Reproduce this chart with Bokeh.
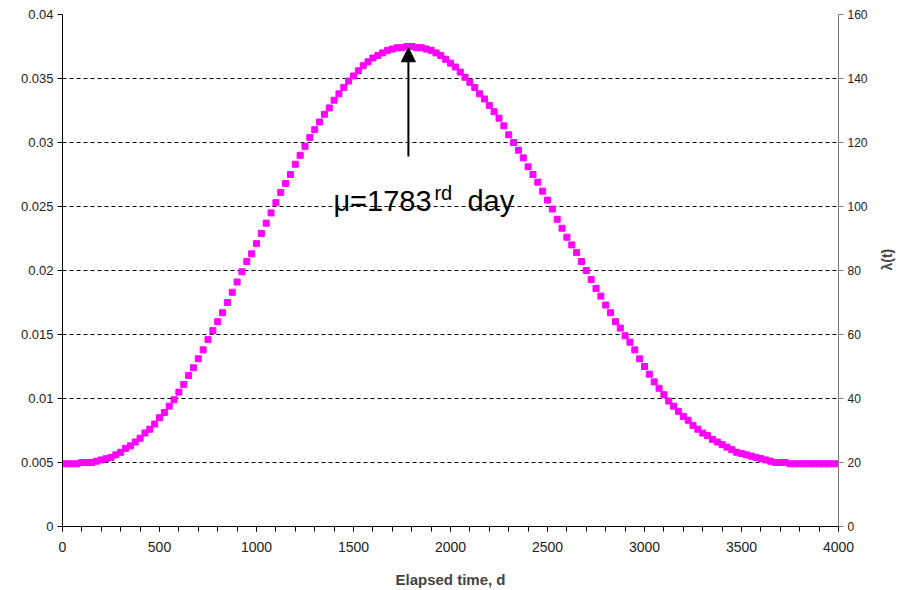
import math
from bokeh.plotting import figure
from bokeh.models import (Range1d, LinearAxis, FixedTicker, CustomJSTickFormatter,
                          Arrow, NormalHead, Label, ColumnDataSource)
from bokeh.embed import file_html
from bokeh.resources import INLINE

# ---- data ----
elapsed_days = [
    0, 25, 50, 75, 100, 125, 150, 175, 200, 225, 250, 275, 300, 325, 350, 375,
    400, 425, 450, 475, 500, 525, 550, 575, 600, 625, 650, 675, 700, 725, 750, 775,
    800, 825, 850, 875, 900, 925, 950, 975, 1000, 1025, 1050, 1075, 1100, 1125, 1150, 1175,
    1200, 1225, 1250, 1275, 1300, 1325, 1350, 1375, 1400, 1425, 1450, 1475, 1500, 1525, 1550, 1575,
    1600, 1625, 1650, 1675, 1700, 1725, 1750, 1775, 1800, 1825, 1850, 1875, 1900, 1925, 1950, 1975,
    2000, 2025, 2050, 2075, 2100, 2125, 2150, 2175, 2200, 2225, 2250, 2275, 2300, 2325, 2350, 2375,
    2400, 2425, 2450, 2475, 2500, 2525, 2550, 2575, 2600, 2625, 2650, 2675, 2700, 2725, 2750, 2775,
    2800, 2825, 2850, 2875, 2900, 2925, 2950, 2975, 3000, 3025, 3050, 3075, 3100, 3125, 3150, 3175,
    3200, 3225, 3250, 3275, 3300, 3325, 3350, 3375, 3400, 3425, 3450, 3475, 3500, 3525, 3550, 3575,
    3600, 3625, 3650, 3675, 3700, 3725, 3750, 3775, 3800, 3825, 3850, 3875, 3900, 3925, 3950, 3975,
    4000,
]
density = [
    0.0049, 0.0049, 0.0049, 0.0049, 0.0050, 0.0050, 0.0050, 0.0051, 0.0052, 0.0053, 0.0054, 0.0056, 0.0058, 0.0061, 0.0063, 0.0066,
    0.0069, 0.0073, 0.0076, 0.0080, 0.0085, 0.0089, 0.0094, 0.0099, 0.0105, 0.0111, 0.0118, 0.0124, 0.0131, 0.0138, 0.0146, 0.0153,
    0.0160, 0.0167, 0.0175, 0.0183, 0.0191, 0.0199, 0.0207, 0.0213, 0.0221, 0.0229, 0.0237, 0.0245, 0.0253, 0.0261, 0.0268, 0.0275,
    0.0283, 0.0290, 0.0297, 0.0304, 0.0310, 0.0316, 0.0322, 0.0327, 0.0333, 0.0338, 0.0343, 0.0348, 0.0352, 0.0356, 0.0360, 0.0363,
    0.0366, 0.0368, 0.0370, 0.0372, 0.0373, 0.0374, 0.0374, 0.0375, 0.0375, 0.0374, 0.0374, 0.0373, 0.0372, 0.0370, 0.0368, 0.0365,
    0.0362, 0.0359, 0.0355, 0.0351, 0.0347, 0.0343, 0.0338, 0.0334, 0.0329, 0.0324, 0.0319, 0.0313, 0.0306, 0.0300, 0.0294, 0.0288,
    0.0281, 0.0275, 0.0269, 0.0262, 0.0255, 0.0248, 0.0240, 0.0233, 0.0226, 0.0220, 0.0214, 0.0207, 0.0200, 0.0193, 0.0186, 0.0180,
    0.0173, 0.0167, 0.0160, 0.0155, 0.0149, 0.0144, 0.0138, 0.0131, 0.0125, 0.0119, 0.0113, 0.0108, 0.0103, 0.0098, 0.0094, 0.0090,
    0.0086, 0.0083, 0.0079, 0.0076, 0.0073, 0.0071, 0.0068, 0.0066, 0.0064, 0.0062, 0.0060, 0.0058, 0.0057, 0.0056, 0.0055, 0.0054,
    0.0053, 0.0052, 0.0051, 0.0050, 0.0050, 0.0050, 0.0049, 0.0049, 0.0049, 0.0049, 0.0049, 0.0049, 0.0049, 0.0049, 0.0049, 0.0049,
    0.0049,
]
left_ticks = [0, 0.005, 0.01, 0.015, 0.02, 0.025, 0.03, 0.035, 0.04]
right_ticks = [0, 20, 40, 60, 80, 100, 120, 140, 160]
x_ticks = [0, 500, 1000, 1500, 2000, 2500, 3000, 3500, 4000]
x_minor_ticks = list(range(0, 4001, 100))
mu_day = 1783
arrow_from = 0.0289
arrow_to = 0.0374
label_level = 0.0254

FONT = "Liberation Sans"

p = figure(width=906, height=590, output_backend="svg", toolbar_location=None,
           x_range=Range1d(0, 4000), y_range=Range1d(0, 0.04),
           min_border_left=62, min_border_right=68, min_border_top=14, min_border_bottom=63)
p.outline_line_color = None
p.background_fill_color = "white"
p.border_fill_color = "white"

src = ColumnDataSource(dict(x=elapsed_days, y=density))
p.scatter("x", "y", source=src, marker="square", size=6,
          fill_color="#FF00FF", line_color="#FF00FF")

# left axis
ly = p.yaxis[0]
ly.ticker = FixedTicker(ticks=left_ticks)
ly.formatter = CustomJSTickFormatter(code="return parseFloat(tick.toFixed(3)).toString();")
ly.major_tick_out = 5
ly.major_tick_in = 0
ly.minor_tick_out = 0
ly.minor_tick_in = 0
ly.axis_line_color = "black"
ly.major_tick_line_color = "black"
ly.major_label_text_font = FONT
ly.major_label_text_font_size = "13px"
ly.major_label_text_color = "#222222"
ly.major_label_standoff = 4

# bottom axis
bx = p.xaxis[0]
bx.ticker = FixedTicker(ticks=x_ticks, minor_ticks=x_minor_ticks)
bx.major_tick_out = 5
bx.major_tick_in = 0
bx.minor_tick_out = 5
bx.minor_tick_in = 0
bx.axis_line_color = "black"
bx.major_tick_line_color = "black"
bx.minor_tick_line_color = "black"
bx.major_label_text_font = FONT
bx.major_label_text_font_size = "14px"
bx.major_label_text_color = "#222222"
bx.major_label_standoff = 10
bx.axis_label = "Elapsed time, d"
bx.axis_label_text_font = FONT
bx.axis_label_text_font_style = "bold"
bx.axis_label_text_font_size = "15px"
bx.axis_label_standoff = 16

# right axis
p.extra_y_ranges = {"lam": Range1d(0, 160)}
ra = LinearAxis(y_range_name="lam", ticker=FixedTicker(ticks=right_ticks))
ra.major_tick_out = 5
ra.major_tick_in = 0
ra.minor_tick_out = 0
ra.minor_tick_in = 0
ra.axis_line_color = "#777777"
ra.major_tick_line_color = "#777777"
ra.major_label_text_font = FONT
ra.major_label_text_font_size = "12px"
ra.major_label_text_color = "#222222"
ra.major_label_standoff = 4
ra.axis_label = "λ(t)"
ra.axis_label_text_font = FONT
ra.axis_label_text_font_style = "bold"
ra.axis_label_text_font_size = "14px"
ra.axis_label_standoff = 16
ra.axis_label_orientation = math.pi / 2
p.add_layout(ra, "right")

# grid
p.xgrid.visible = False
p.ygrid.ticker = FixedTicker(ticks=left_ticks)
p.ygrid.grid_line_color = "black"
p.ygrid.grid_line_dash = "4 3"
p.ygrid.grid_line_width = 1

# annotation
p.add_layout(Arrow(end=NormalHead(size=14, fill_color="black", line_color="black"),
                   x_start=mu_day, y_start=arrow_from, x_end=mu_day, y_end=arrow_to,
                   line_color="black", line_width=2))
p.add_layout(Label(x=mu_day, y=label_level, x_offset=-75, text="μ=1783",
                   text_font=FONT, text_font_size="29px", text_color="black",
                   text_baseline="alphabetic"))
p.add_layout(Label(x=mu_day, y=label_level, x_offset=26, y_offset=8, text="rd",
                   text_font=FONT, text_font_size="20px", text_color="black",
                   text_baseline="alphabetic"))
p.add_layout(Label(x=mu_day, y=label_level, x_offset=59, text="day",
                   text_font=FONT, text_font_size="29px", text_color="black",
                   text_baseline="alphabetic"))

open("out.html", "w").write(file_html(p, INLINE))
